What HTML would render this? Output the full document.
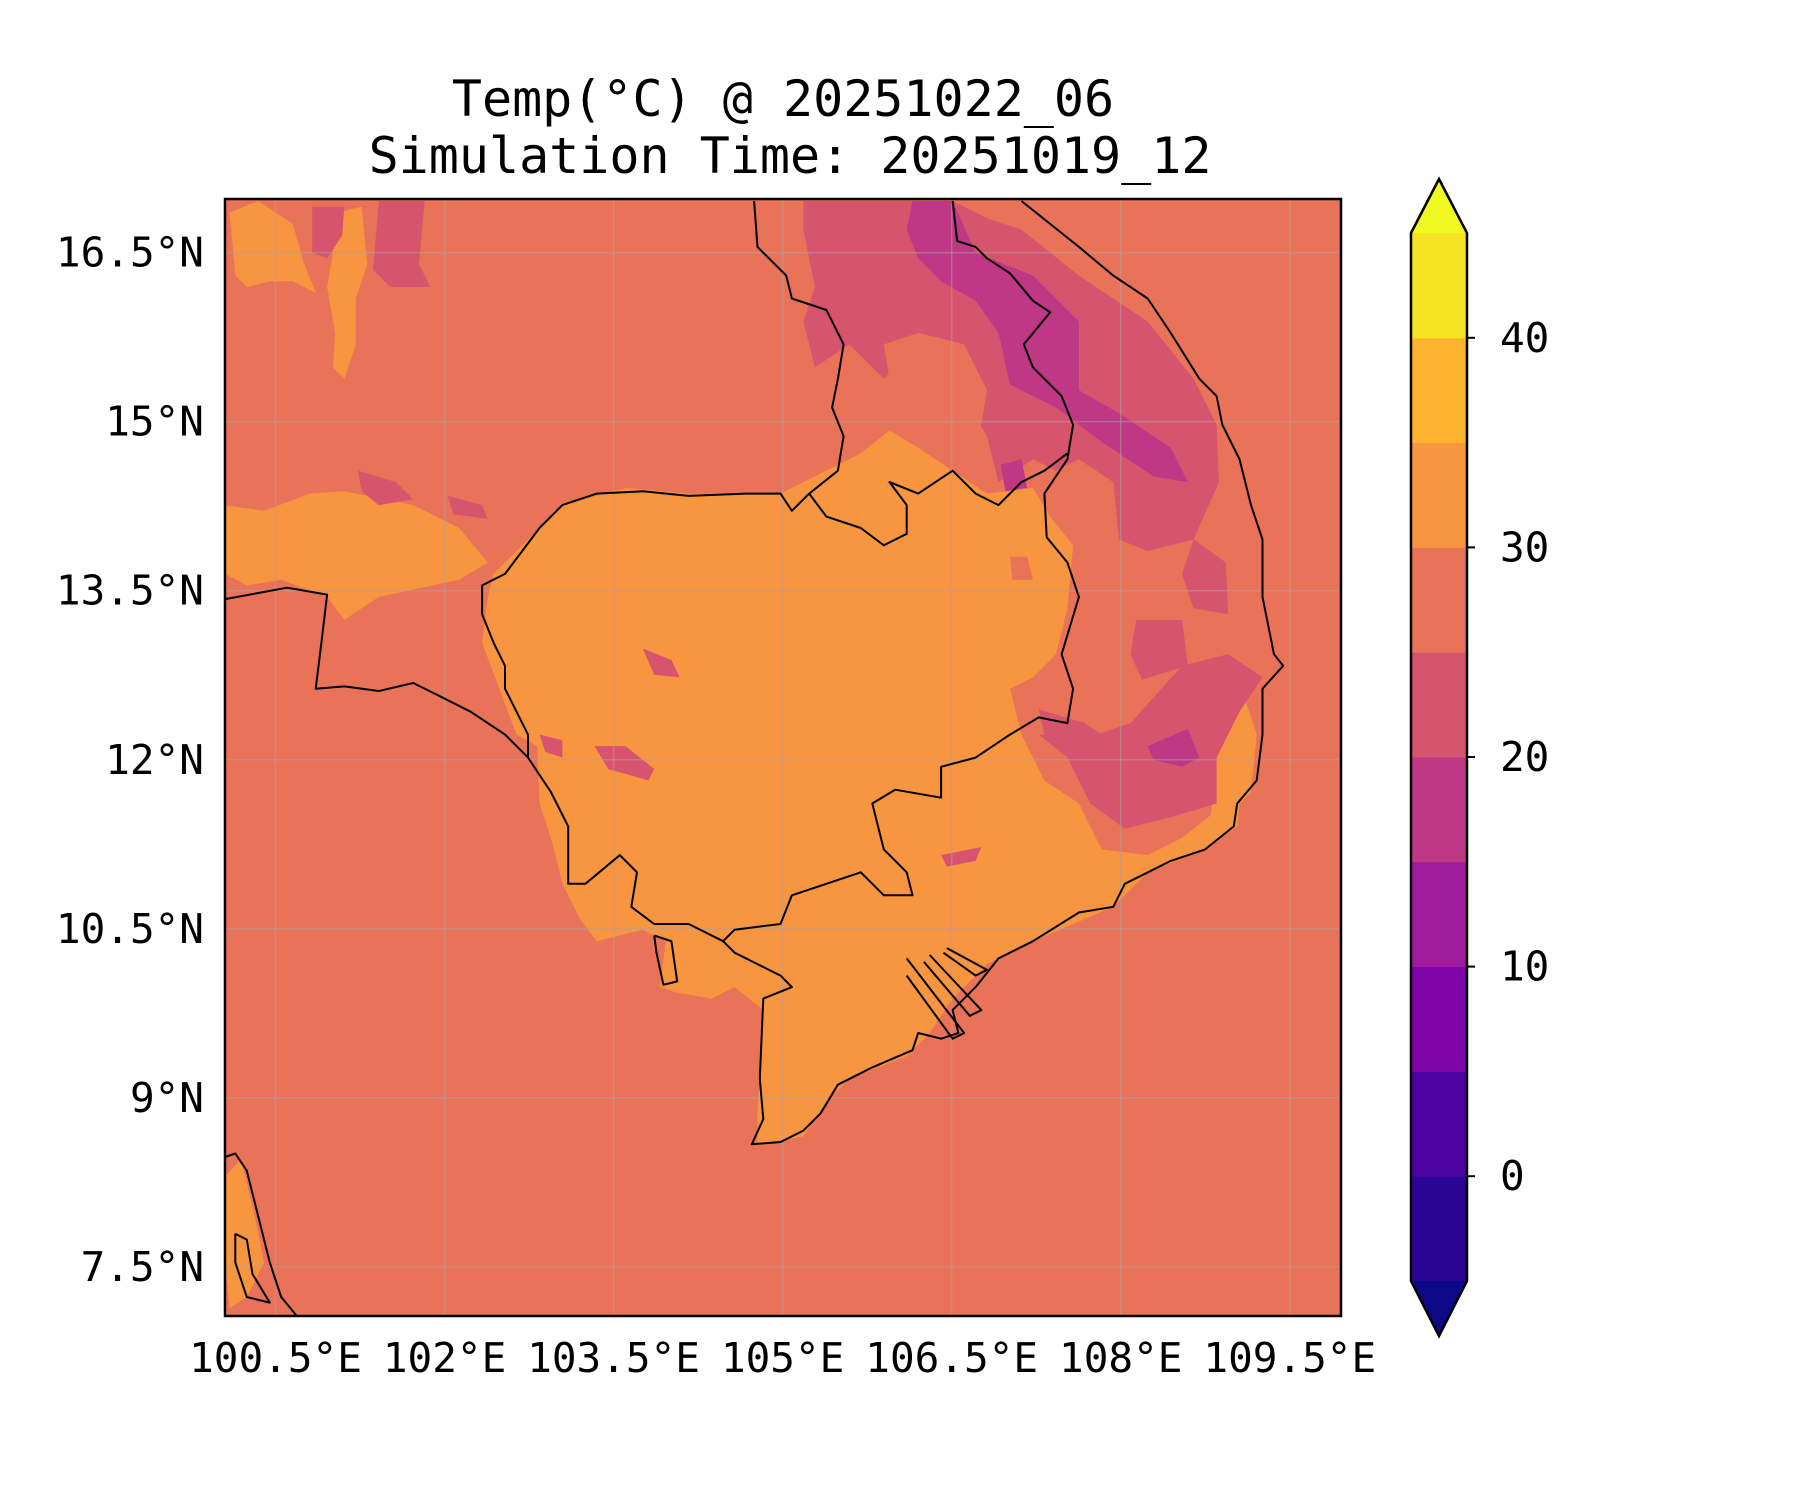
<!DOCTYPE html>
<html><head><meta charset="utf-8"><style>
html,body{margin:0;padding:0;background:#fff}
svg text{font-family:"DejaVu Sans Mono","Liberation Mono",monospace;fill:#000}
</style></head><body>
<svg id="fig" width="1800" height="1500" viewBox="0 0 1800 1500" xmlns="http://www.w3.org/2000/svg">
<text x="783" y="116" font-size="50" text-anchor="middle">Temp(°C) @ 20251022_06</text>
<text x="790" y="173" font-size="50" text-anchor="middle">Simulation Time: 20251019_12</text>
<defs><clipPath id="mapclip"><rect x="225" y="199" width="1116" height="1117"/></clipPath></defs>
<g id="map" clip-path="url(#mapclip)"></g>
<rect x="225" y="199" width="1116" height="1117" fill="none" stroke="#000" stroke-width="2.5"/>
<g id="axes"></g>
<g id="cbar"></g>
</svg>
<script>
// axis ticks
const lonTicks=[100.5,102,103.5,105,106.5,108,109.5];
const lonLabels=["100.5°E","102°E","103.5°E","105°E","106.5°E","108°E","109.5°E"];
const latTicks=[16.5,15,13.5,12,10.5,9,7.5];
const latLabels=["16.5°N","15°N","13.5°N","12°N","10.5°N","9°N","7.5°N"];
const cbLevels=[-5,0,5,10,15,20,25,30,35,40,45];
const cbColors=["#2a0593","#4c02a1","#7e03a8","#a01a9c","#be3885","#d6546e","#e97358","#f89540","#fdb32f","#f4e424"];
const cbTicks=[0,10,20,30,40];
const BG="#e97358",OR="#f79540",PK="#d6546e",MG="#be3885";
// shapes in sketch units (reference at 0.871 scale); converted to lon/lat below
const orangeShapes=[
 [196,440,230,445,270,430,300,428,360,440,400,460,425,490,400,505,330,520,300,540,285,520,245,505,215,510,196,500],
 [430,500,460,470,490,440,545,425,600,430,680,430,700,420,750,395,775,375,800,390,830,410,860,430,900,425,915,450,935,475,930,530,920,570,900,590,880,600,890,640,910,680,940,700,960,740,1000,745,1030,730,1055,710,1058,680,1080,700,1078,720,1050,740,1000,760,970,790,900,820,860,840,830,870,810,900,790,920,740,940,720,960,700,990,660,998,660,970,665,880,640,860,620,870,590,865,575,860,580,820,560,810,540,815,520,820,505,800,490,770,480,730,470,700,468,650,450,640,435,600,420,560,425,520],
 [200,185,225,175,255,195,265,230,275,255,255,245,235,245,215,250,205,240],
 [295,185,315,180,320,230,310,260,310,300,300,330,290,320,292,290,285,250,290,220],
 [1055,600,1080,595,1095,640,1090,690,1070,710,1055,700],
 [196,1025,210,1010,222,1060,230,1100,215,1130,200,1140,196,1100]
];
const pinkShapes=[
 [700,175,830,175,860,190,890,200,940,240,1000,280,1040,330,1060,370,1062,420,1040,470,1000,480,975,470,970,420,940,400,920,410,900,400,870,420,860,380,830,330,800,300,770,330,740,300,710,320,700,280,710,250,700,200],
 [330,175,370,175,365,230,375,250,340,250,325,235],
 [272,180,300,180,298,205,285,225,272,220],
 [990,540,1030,540,1035,580,995,592,985,570],
 [1040,470,1068,490,1070,535,1040,530,1030,500],
 [985,630,1030,580,1070,570,1100,590,1080,620,1060,660,1060,700,1020,712,980,722,950,700,930,660,905,640,955,640],
 [518,650,545,650,570,670,565,680,530,670],
 [312,410,345,420,360,435,330,440,315,428],
 [390,432,420,440,425,452,395,448],
 [560,565,585,575,592,590,570,588],
 [470,640,490,645,490,660,475,655],
 [820,745,855,738,850,750,825,755],
 [905,618,945,630,975,650,940,650,910,640]
];
const magentaShapes=[
 [795,175,830,175,850,220,900,240,940,280,940,340,975,360,1020,390,1035,420,1005,415,960,385,920,355,880,335,870,290,850,262,820,245,800,225,790,200],
 [790,335,830,330,835,350,800,358],
 [1000,650,1035,635,1045,660,1030,668,1005,662],
 [872,405,890,400,895,425,876,428]
];
const salmonShapes=[
 [770,300,800,290,840,300,860,340,855,370,835,390,800,380,780,360,775,330],
 [880,485,895,485,900,505,882,505]
];
const coastLines=[
 [196,522,250,512,285,518,280,560,275,600,300,598,330,602,360,595,380,605,410,620,440,640,460,660,480,690,495,720,495,770,510,770,540,745,555,760,550,790,570,805,600,805,630,820,640,810,680,805,690,780,720,770,750,760,770,780,795,780,790,760,770,740,760,700,780,688,820,695,820,668,850,660,880,640,905,625,930,630,935,600,925,570,940,520,930,490,912,468,910,430,930,400,935,370,925,345,900,320,892,300,915,272,900,262,880,238,860,225,850,215,834,210,830,175],
 [657,175,660,215,685,240,690,260,720,270,735,300,730,330,725,355,735,380,730,410,705,430,690,445,680,430,650,430,600,432,560,428,520,430,490,440,470,460,455,480,440,500,420,510,420,535,430,560,440,580,440,600,460,640,460,660],
 [705,430,720,450,750,460,770,475,790,465,790,440,775,420,800,430,830,410,850,430,870,440,890,420,910,410,930,395],
 [890,175,940,215,970,240,1000,260,1020,290,1045,330,1060,345,1065,370,1080,400,1090,440,1100,470,1100,520,1110,570,1118,580,1100,600,1100,640,1095,680,1078,700,1075,720,1050,740,1020,750,980,770,970,790,940,795,900,820,870,835,850,860,830,880,835,900,820,905,800,900,795,915,760,930,730,945,715,970,700,985,680,995,655,997,665,975,662,940,665,870,690,860,680,850,660,840,640,830,630,820],
 [196,1008,205,1005,215,1020,225,1060,235,1100,245,1130,258,1146],
 [790,835,840,900,830,905,790,850],
 [810,832,855,880,845,885,805,838],
 [825,826,860,845,850,850,822,830],
 [205,1075,215,1080,220,1110,235,1135,215,1130,205,1100,205,1075],
 [570,815,585,820,590,855,578,858,572,830,570,815]
];
// projection
const LON0=100.5,LAT0=16.5,PXDEG=112.7,PYDEG=112.7,X0=275.5,Y0=252.6;
function X(lon){return X0+(lon-LON0)*PXDEG;}
function Y(lat){return Y0+(LAT0-lat)*PYDEG;}
function sk2ll(arr){const o=[];for(let i=0;i<arr.length;i+=2){o.push([LON0+(arr[i]-240)/98.2,LAT0-(arr[i+1]-220)/98.2]);}return o;}
const NS="http://www.w3.org/2000/svg";
function mk(tag,attrs,parent){const e=document.createElementNS(NS,tag);for(const k in attrs)e.setAttribute(k,attrs[k]);parent.appendChild(e);return e;}
function pts(ll){return ll.map(p=>X(p[0]).toFixed(1)+","+Y(p[1]).toFixed(1)).join(" ");}
const map=document.getElementById('map');
let bg=mk('rect',{x:225,y:199,width:1116,height:1117,fill:BG},map);


function drawSet(set,fill,name){set.forEach((s,i)=>{const p=mk('polygon',{points:pts(sk2ll(s)),fill:fill,'stroke-linejoin':'round'},map);

});}
drawSet(orangeShapes,OR,'temp-30-35-region');
drawSet(pinkShapes,PK,'temp-20-25-region');
drawSet(magentaShapes,MG,'temp-15-20-region');
drawSet(salmonShapes,BG,'temp-25-30-region');
// gridlines
lonTicks.forEach((v,i)=>{const l=mk('line',{x1:X(v),x2:X(v),y1:199,y2:1316,stroke:'#b0a0a0','stroke-width':1.5,opacity:0.5},map);

});
latTicks.forEach((v,i)=>{const l=mk('line',{x1:225,x2:1341,y1:Y(v),y2:Y(v),stroke:'#b0a0a0','stroke-width':1.5,opacity:0.5},map);

});
coastLines.forEach(c=>{const p=mk('polyline',{points:pts(sk2ll(c)),fill:'none',stroke:'#000','stroke-width':2,'stroke-linejoin':'round'},map);

});
const axes=document.getElementById('axes');
lonTicks.forEach((v,i)=>{const t=mk('text',{x:X(v),y:1372,'font-size':41,'text-anchor':'middle'},axes);t.textContent=lonLabels[i];

});
latTicks.forEach((v,i)=>{const t=mk('text',{x:204,y:Y(v)+14,'font-size':41,'text-anchor':'end'},axes);t.textContent=latLabels[i];

});
// colorbar
const cb=document.getElementById('cbar');
const CBX=1411,CBW=56,CBT=233,CBB=1281;
function CY(v){return CBB-(v-cbLevels[0])/(cbLevels[cbLevels.length-1]-cbLevels[0])*(CBB-CBT);}
for(let i=0;i<cbColors.length;i++){const r=mk('rect',{x:CBX,y:CY(cbLevels[i+1]),width:CBW,height:CY(cbLevels[i])-CY(cbLevels[i+1])+0.5,fill:cbColors[i]},cb);

}
let tt=mk('polygon',{points:`${CBX},${CBT} ${CBX+CBW/2},179 ${CBX+CBW},${CBT}`,fill:'#f0f921'},cb);


let tb=mk('polygon',{points:`${CBX},${CBB} ${CBX+CBW/2},1336 ${CBX+CBW},${CBB}`,fill:'#0d0887'},cb);


let ol=mk('polygon',{points:`${CBX},${CBT} ${CBX+CBW/2},179 ${CBX+CBW},${CBT} ${CBX+CBW},${CBB} ${CBX+CBW/2},1336 ${CBX},${CBB}`,fill:'none',stroke:'#000','stroke-width':2.5},cb);


cbTicks.forEach(v=>{const l=mk('line',{x1:CBX+CBW,x2:CBX+CBW+8,y1:CY(v),y2:CY(v),stroke:'#000','stroke-width':2},cb);


const t=mk('text',{x:1500,y:CY(v)+14,'font-size':41},cb);t.textContent=String(v);

});
</script>
</body></html>
